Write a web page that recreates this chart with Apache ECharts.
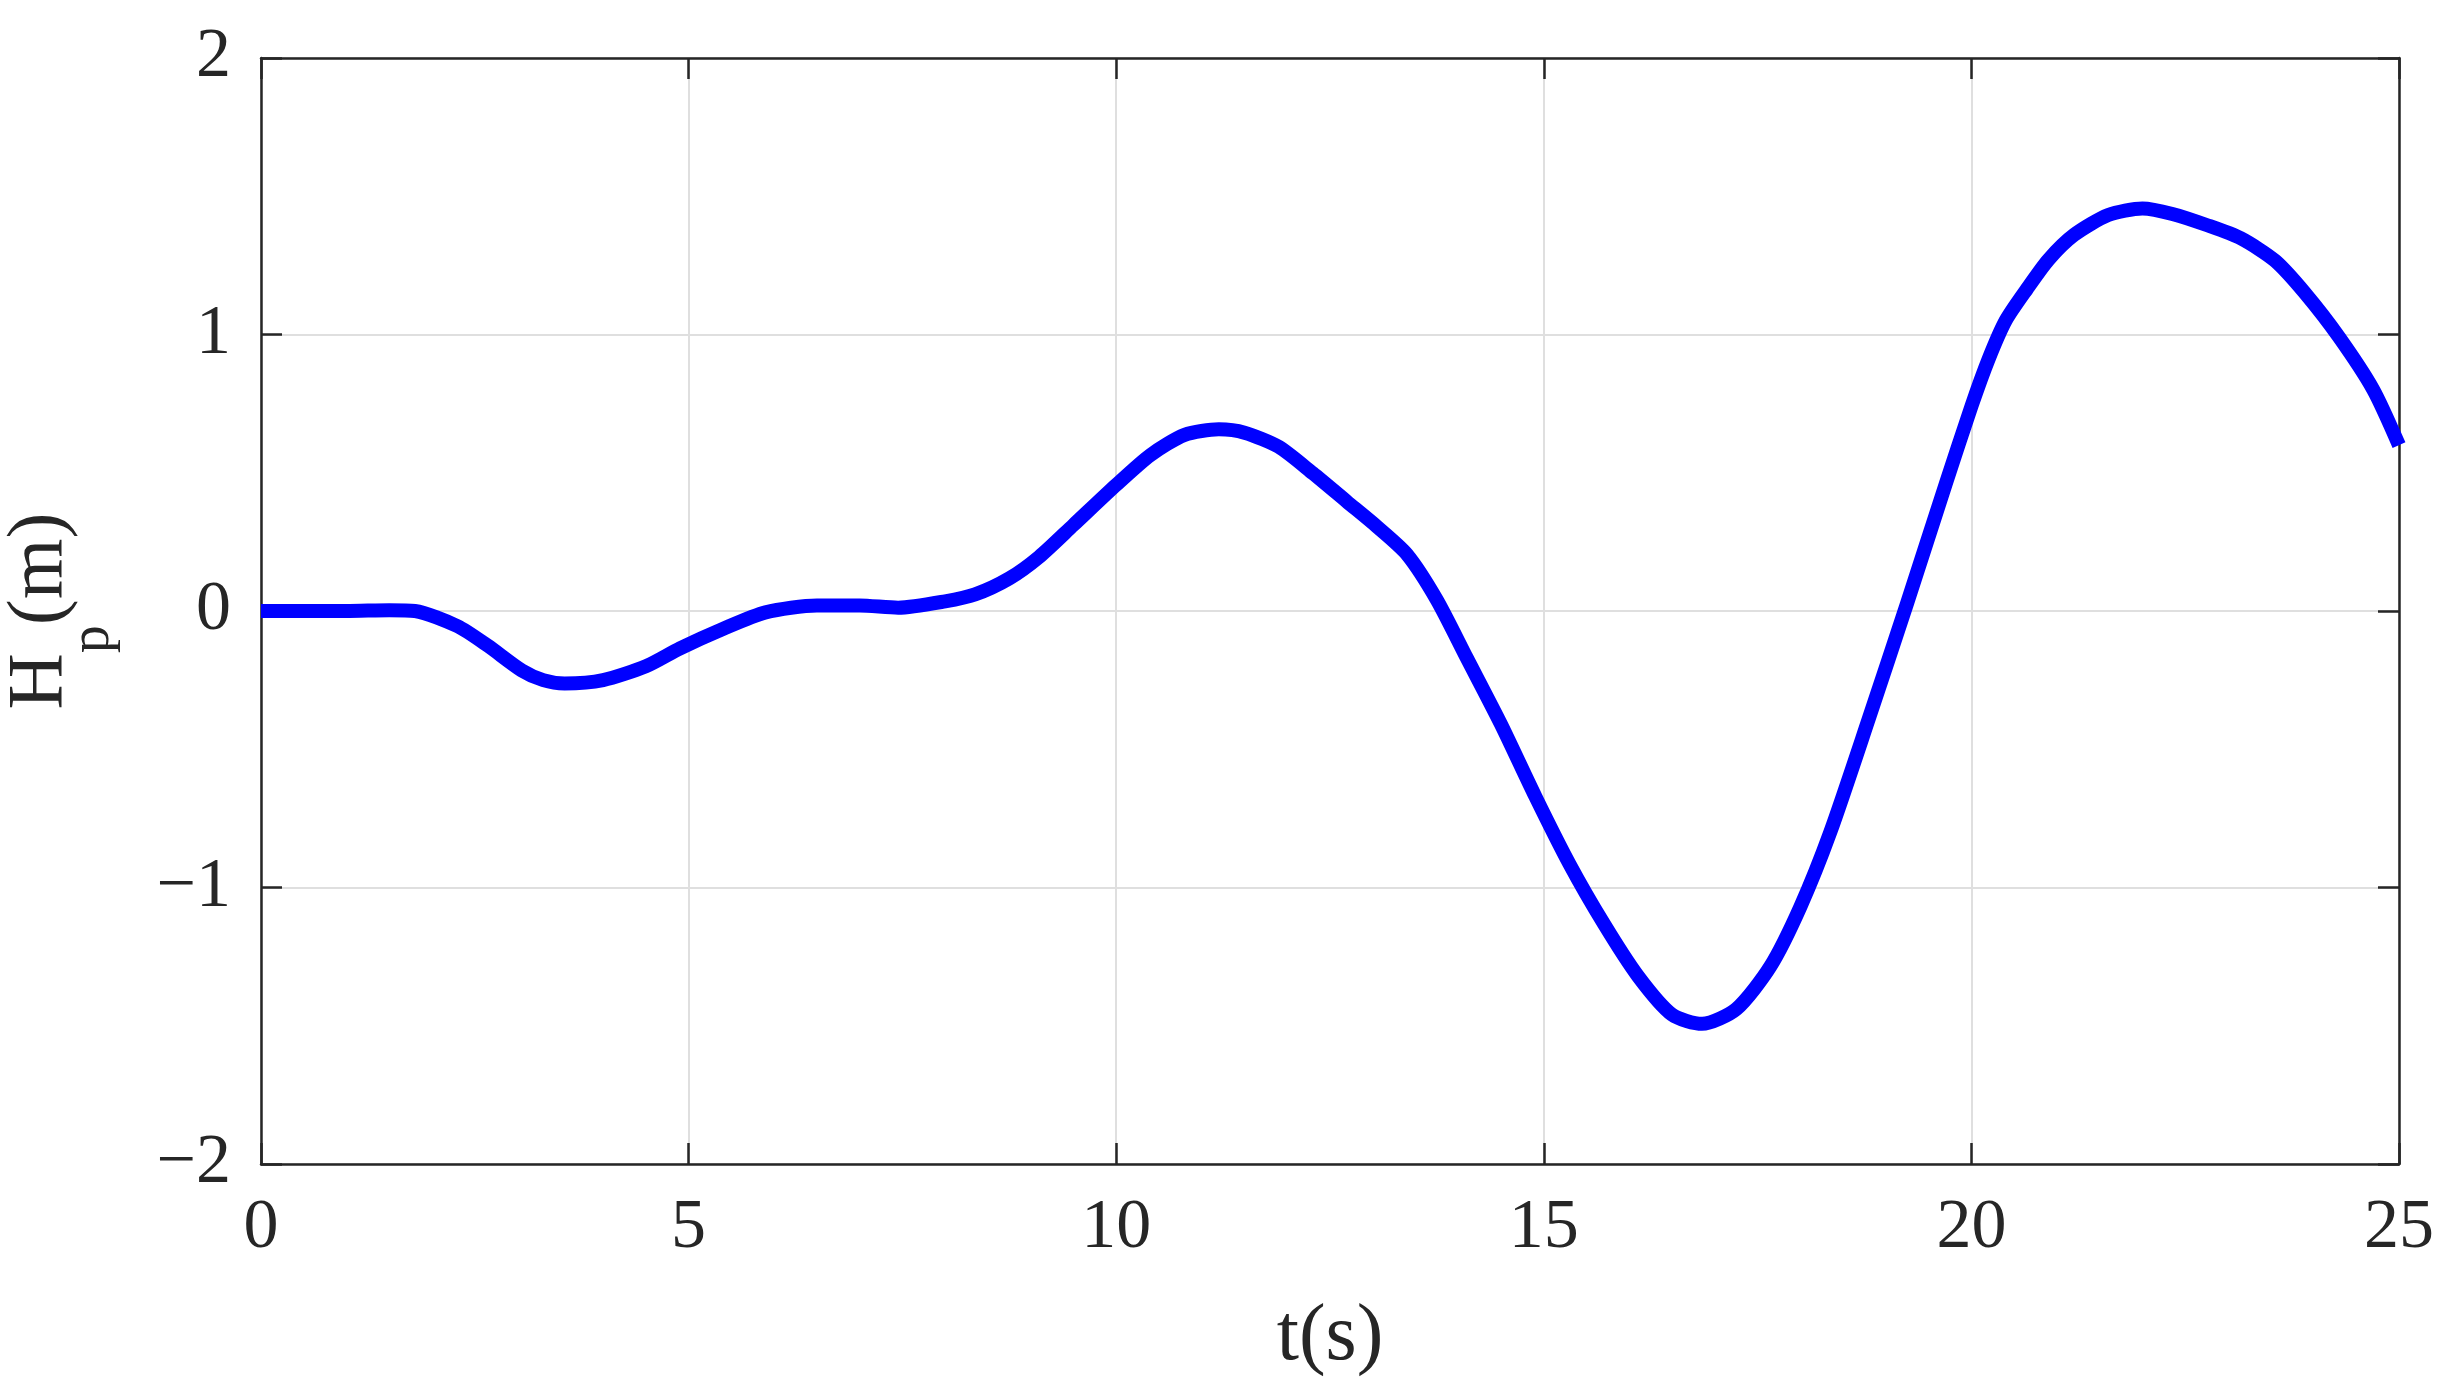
<!DOCTYPE html>
<html>
<head>
<meta charset="utf-8">
<script src="https://cdn.jsdelivr.net/npm/echarts@6/dist/echarts.min.js"></script>
<style>
html,body{margin:0;padding:0;background:#fff;}
#chart{width:2450px;height:1394px;}
</style>
</head>
<body>
<div id="chart"></div>
<script>
// Time (s)
var timeValues = [0, 0.5, 1.0, 1.5, 1.8, 2.3, 2.65, 3.05, 3.3, 3.55, 4.0, 4.5, 4.9, 5.4, 5.9, 6.5, 7.0, 7.45, 8.0, 8.35, 8.75, 9.1, 9.5, 10.0, 10.4, 10.8, 11.2, 11.5, 11.9, 12.3, 12.7, 13.05, 13.4, 13.75, 14.1, 14.5, 14.9, 15.3, 15.7, 16.1, 16.5, 16.85, 17.25, 17.65, 18.0, 18.35, 18.8, 19.25, 19.7, 20.0, 20.2, 20.4, 20.65, 20.9, 21.2, 21.6, 22.0, 22.35, 22.75, 23.15, 23.55, 23.9, 24.3, 24.7, 25.0];
// Hp (m)
var heightValues = [0, 0.0, 0.0, 0.003, 0, -0.055, -0.125, -0.215, -0.25, -0.262, -0.25, -0.2, -0.135, -0.065, -0.005, 0.02, 0.02, 0.012, 0.035, 0.06, 0.118, 0.196, 0.311, 0.456, 0.564, 0.637, 0.657, 0.645, 0.594, 0.498, 0.395, 0.305, 0.205, 0.04, -0.17, -0.41, -0.67, -0.915, -1.13, -1.32, -1.46, -1.493, -1.44, -1.285, -1.07, -0.8, -0.39, 0.03, 0.46, 0.74, 0.91, 1.05, 1.165, 1.27, 1.36, 1.432, 1.456, 1.436, 1.396, 1.348, 1.267, 1.15, 0.99, 0.80, 0.60];
var xTicks = [0, 5, 10, 15, 20, 25];
var yTicks = [-2, -1, 0, 1, 2];

var seriesData = timeValues.map(function (t, i) { return [t, heightValues[i]]; });

var FONT = 'Liberation Serif';
var INK = '#262626';
var lineSt = { color: INK, width: 2.5 };
var tickSt = { show: true, inside: true, length: 21, lineStyle: { color: INK, width: 2.5 } };
var gridSt = { show: true, lineStyle: { color: '#dfdfdf', width: 2 } };

function fmt(v) { return String(v).replace('-', '\u2212'); }

var chart = echarts.init(document.getElementById('chart'), null, { renderer: 'canvas' });
chart.setOption({
  animation: false,
  backgroundColor: '#ffffff',
  grid: { left: 261, right: 51, top: 58, bottom: 230, containLabel: false, outerBoundsMode: 'none' },
  xAxis: [{
    type: 'value', min: xTicks[0], max: xTicks[xTicks.length - 1], interval: 5, position: 'bottom',
    axisLine: { show: true, onZero: false, lineStyle: lineSt },
    axisTick: tickSt,
    splitLine: gridSt,
    axisLabel: { fontFamily: FONT, fontSize: 70, color: INK, margin: 30, formatter: fmt },
    name: 't(s)', nameLocation: 'middle', nameGap: 134,
    nameTextStyle: { fontFamily: FONT, fontSize: 80, color: INK }
  }, {
    type: 'value', min: xTicks[0], max: xTicks[xTicks.length - 1], interval: 5, position: 'top',
    axisLine: { show: true, onZero: false, lineStyle: lineSt },
    axisTick: tickSt, splitLine: { show: false }, axisLabel: { show: false }
  }],
  yAxis: [{
    type: 'value', min: yTicks[0], max: yTicks[yTicks.length - 1], interval: 1, position: 'left',
    axisLine: { show: true, onZero: false, lineStyle: lineSt },
    axisTick: tickSt,
    splitLine: gridSt,
    axisLabel: { fontFamily: FONT, fontSize: 70, color: INK, margin: 30, formatter: fmt },
    name: '{a|H}{b|p}{a|(m)}', nameLocation: 'middle', nameGap: 140, nameRotate: 90,
    nameTextStyle: {
      fontFamily: FONT, color: INK,
      rich: {
        a: { fontFamily: FONT, fontSize: 78, color: INK, lineHeight: 160, verticalAlign: 'middle' },
        b: { fontFamily: FONT, fontSize: 56, color: INK, lineHeight: 72, verticalAlign: 'bottom' }
      }
    }
  }, {
    type: 'value', min: yTicks[0], max: yTicks[yTicks.length - 1], interval: 1, position: 'right',
    axisLine: { show: true, onZero: false, lineStyle: lineSt },
    axisTick: tickSt, splitLine: { show: false }, axisLabel: { show: false }
  }],
  series: [{
    type: 'line', xAxisIndex: 0, yAxisIndex: 0,
    data: seriesData, smooth: 0.25, showSymbol: false, symbol: 'none',
    lineStyle: { color: '#0000ff', width: 14, join: 'round', cap: 'butt' }
  }]
});
</script>
</body>
</html>
